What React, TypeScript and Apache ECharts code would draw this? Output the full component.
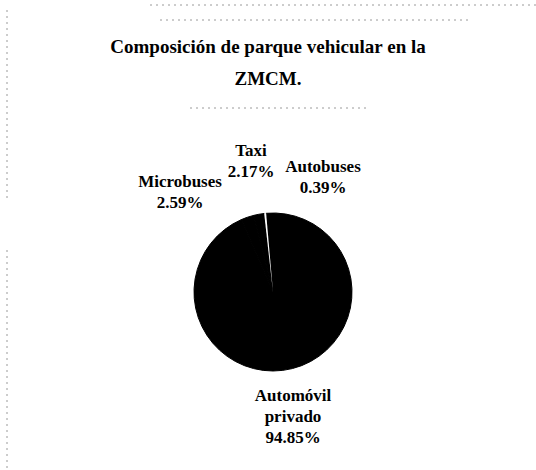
import React, { useEffect, useRef } from "react";
import * as echarts from "echarts";

const categories = ["Automóvil privado", "Microbuses", "Taxi", "Autobuses"];
const values = [94.85, 2.59, 2.17, 0.39];
const labelNames = ["Automóvil\nprivado", "Microbuses", "Taxi", "Autobuses"];
const sliceColors = ["#000000", "#000000", "#000000", "#ffffff"];
const labelPos = [
  [293, 416],
  [180, 192],
  [251, 161],
  [323, 177],
];

export default function App() {
  const ref = useRef<HTMLDivElement>(null);
  useEffect(() => {
    if (!ref.current) return;
    const chart = echarts.init(ref.current, undefined, { renderer: "svg" });
    const dash = { stroke: "#9a9a9a", lineWidth: 1, lineDash: [2, 4] };
    chart.setOption({
      animation: false,
      backgroundColor: "#ffffff",
      title: {
        text: "Composición de parque vehicular en la\nZMCM.",
        left: "center",
        top: 25,
        textStyle: {
          fontFamily: "Liberation Serif",
          fontWeight: "bold",
          fontSize: 19,
          lineHeight: 32,
          color: "#000",
        },
      },
      graphic: [
        { type: "line", shape: { x1: 150, y1: 5, x2: 536, y2: 5 }, style: dash, silent: true },
        { type: "line", shape: { x1: 160, y1: 20, x2: 470, y2: 20 }, style: dash, silent: true },
        { type: "line", shape: { x1: 190, y1: 108, x2: 370, y2: 108 }, style: dash, silent: true },
        { type: "line", shape: { x1: 7, y1: 10, x2: 7, y2: 200 }, style: dash, silent: true },
        { type: "line", shape: { x1: 7, y1: 250, x2: 7, y2: 470 }, style: dash, silent: true },
      ],
      series: [
        {
          type: "pie",
          center: [273, 292],
          radius: 79,
          startAngle: 95,
          clockwise: true,
          silent: true,
          data: categories.map((c, i) => ({
            name: c,
            value: values[i],
            itemStyle: {
              color: sliceColors[i],
              borderColor: sliceColors[i],
              borderWidth: sliceColors[i] === "#000000" ? 1 : 0,
            },
          })),
          label: {
            show: true,
            position: "outside",
            formatter: (p: any) => `${labelNames[p.dataIndex]}\n${values[p.dataIndex].toFixed(2)}%`,
            fontFamily: "Liberation Serif",
            fontWeight: "bold",
            fontSize: 17,
            lineHeight: 21,
            color: "#000",
            align: "center",
          },
          labelLine: { show: false },
          labelLayout: (p: any) => ({
            x: labelPos[p.dataIndex][0],
            y: labelPos[p.dataIndex][1],
            align: "center",
            verticalAlign: "middle",
          }),
        },
      ],
    });
    return () => chart.dispose();
  }, []);
  return (
    <div
      ref={ref}
      style={{ position: "absolute", left: 0, top: 0, width: 536, height: 470 }}
    />
  );
}
